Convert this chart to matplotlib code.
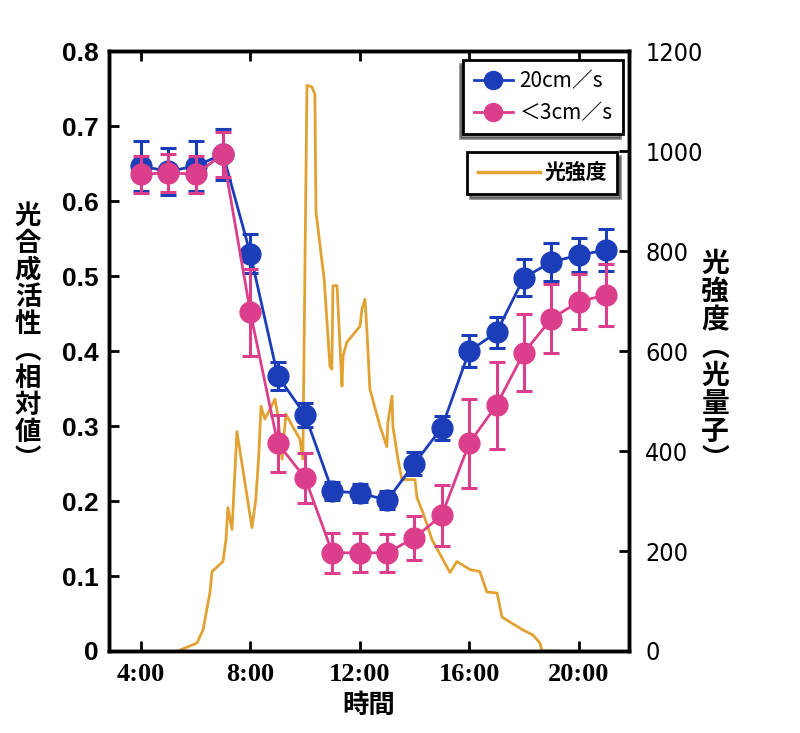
import matplotlib
matplotlib.use("Agg")
import matplotlib.pyplot as plt
from matplotlib.lines import Line2D

# photosynthetic activity (relative), hourly 4:00 - 21:00
hours = [4, 5, 6, 7, 8, 9, 10, 11, 12, 13, 14, 15, 16, 17, 18, 19, 20, 21]
fast = [0.647, 0.640, 0.647, 0.663, 0.530, 0.367, 0.315, 0.213, 0.211, 0.201,
        0.250, 0.298, 0.400, 0.425, 0.498, 0.519, 0.528, 0.535]
fast_err = [0.033, 0.031, 0.033, 0.034, 0.026, 0.019, 0.016, 0.012, 0.012, 0.012,
            0.015, 0.016, 0.021, 0.021, 0.025, 0.026, 0.023, 0.028]
slow = [0.636, 0.638, 0.636, 0.663, 0.452, 0.277, 0.231, 0.131, 0.131, 0.131,
        0.151, 0.181, 0.277, 0.328, 0.398, 0.443, 0.466, 0.475]
slow_err = [0.025, 0.025, 0.025, 0.030, 0.058, 0.038, 0.033, 0.027, 0.026, 0.025,
            0.029, 0.041, 0.059, 0.058, 0.051, 0.046, 0.037, 0.041]

# light intensity trace (photons)
light_t = [5.35, 6.05, 6.27, 6.52, 6.60, 7.00, 7.11, 7.18, 7.33, 7.51, 8.06, 8.20,
           8.31, 8.39, 8.53, 8.72, 8.90, 9.0, 9.16, 9.3, 9.6, 9.81, 9.92, 10.07,
           10.25, 10.36, 10.40, 10.62, 10.70, 10.91, 10.98, 11.02, 11.17, 11.35,
           11.39, 11.53, 12.01, 12.08, 12.19, 12.26, 12.37, 12.74, 12.99, 13.03,
           13.18, 13.21, 13.40, 13.54, 14.02, 14.09, 14.31, 14.64, 15.30, 15.55,
           16.03, 16.39, 16.65, 17.02, 17.20, 17.49, 17.97, 18.33, 18.59, 18.66, 19.21]
light_v = [0, 16, 42, 116, 159, 179, 223, 287, 243, 439, 247, 303,
           393, 490, 464, 484, 504, 474, 384, 474, 444, 424, 384, 1132,
           1129, 1114, 879, 779, 744, 570, 564, 731, 731, 530,
           590, 618, 650, 684, 704, 644, 524, 450, 409, 458,
           510, 450, 383, 343, 343, 307, 277, 223, 157, 179,
           163, 159, 118, 116, 68, 58, 42, 32, 16, 0, 0]

xticks = [4, 8, 12, 16, 20]
xticklabels = ["4:00", "8:00", "12:00", "16:00", "20:00"]
left_ticks = [0, 0.1, 0.2, 0.3, 0.4, 0.5, 0.6, 0.7, 0.8]
right_ticks = [0, 200, 400, 600, 800, 1000, 1200]

BLUE = "#1c3db8"
PINK = "#db3f8c"
ORANGE = "#e2a233"
jp = ["Noto Sans CJK JP", "DejaVu Sans"]

fig = plt.figure(figsize=(8, 7.33), dpi=100)
ax = fig.add_axes([0.1358, 0.1119, 0.65, 0.818])
ax2 = ax.twinx()
ax.set_zorder(ax2.get_zorder() + 1)
ax.patch.set_visible(False)

ax2.plot(light_t, light_v, color=ORANGE, lw=2, zorder=1)

ax.errorbar(hours, fast, yerr=fast_err, color=BLUE, marker="o", ms=15, lw=2,
            elinewidth=2.2, capsize=6, capthick=2.2, zorder=3)
ax.errorbar(hours, slow, yerr=slow_err, color=PINK, marker="o", ms=15, lw=2,
            elinewidth=2.2, capsize=6, capthick=2.2, zorder=4)

ax.set_xlim(2.82, 21.83)
ax.set_ylim(0, 0.8)
ax2.set_ylim(0, 1200)

ax.set_xticks(xticks)
ax.set_xticklabels(xticklabels, fontfamily="Liberation Serif", fontweight="bold", fontsize=19)
ax.set_yticks(left_ticks)
ax.set_yticklabels(["0"] + [f"{v:.1f}" for v in left_ticks[1:]],
                   fontfamily="Liberation Sans", fontweight="bold", fontsize=19)
ax2.set_yticks(right_ticks)
ax2.set_yticklabels([str(v) for v in right_ticks], fontfamily="DejaVu Sans",
                    fontstretch="condensed", fontsize=18)

ax.tick_params(axis="x", direction="in", length=7, width=2, top=True, pad=9)
ax.tick_params(axis="y", direction="in", length=7, width=2, pad=7)
ax2.tick_params(axis="y", direction="in", length=7, width=2, pad=12)
for a in (ax, ax2):
    for s in a.spines.values():
        s.set_linewidth(2.5)

ax.set_xlabel("時間", fontfamily=jp, fontweight="bold", fontsize=19, labelpad=4)

fig.text(0.035, 0.539, "\n".join("光合成活性︵相対値︶"), fontfamily=jp, fontweight="bold",
         fontsize=19, ha="center", va="center", linespacing=1.0)
fig.text(0.894, 0.506, "\n".join("光強度︵光量子︶"), fontfamily=jp, fontweight="bold",
         fontsize=20, ha="center", va="center", linespacing=1.0)

h1 = [Line2D([], [], color=BLUE, marker="o", ms=13, lw=2),
      Line2D([], [], color=PINK, marker="o", ms=13, lw=2)]
leg1 = fig.legend(h1, ["20cm／s", "＜3cm／s"], loc="upper left",
                  bbox_to_anchor=(0.579, 0.918), borderaxespad=0,
                  prop={"family": jp, "size": 15}, fancybox=False,
                  shadow={"ox": -2, "oy": -3, "color": "#222222"}, edgecolor="black",
                  framealpha=1, handlelength=1.9, borderpad=0.5, labelspacing=0.45,
                  handletextpad=0.3)
leg1.get_frame().set_linewidth(2)
h2 = [Line2D([], [], color=ORANGE, lw=2.5)]
leg2 = fig.legend(h2, ["光強度"], loc="upper left", bbox_to_anchor=(0.584, 0.793),
                  borderaxespad=0, prop={"family": jp, "size": 15, "weight": "bold"},
                  fancybox=False, shadow={"ox": 2, "oy": -3, "color": "#222222"},
                  edgecolor="black", framealpha=1, handlelength=3.0, borderpad=0.5,
                  handletextpad=0.2)
leg2.get_frame().set_linewidth(2)

fig.savefig("out.png", dpi=100, facecolor="white")
